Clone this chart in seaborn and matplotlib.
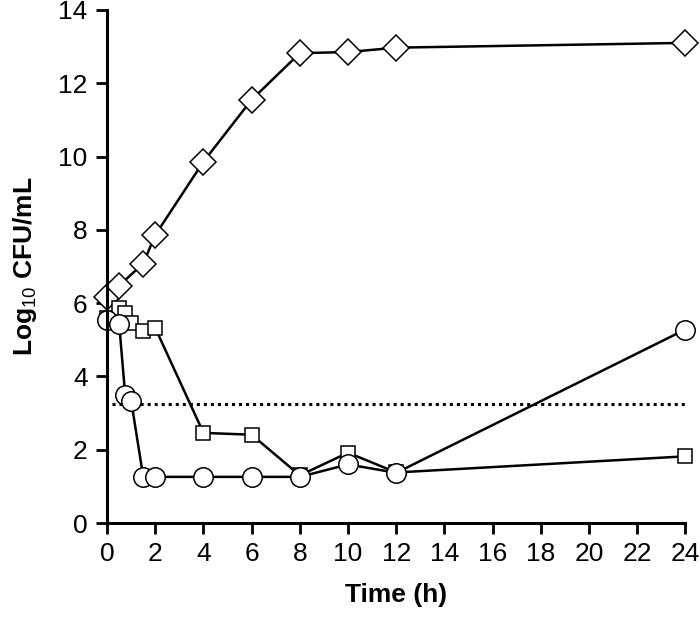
import pandas as pd
import seaborn as sns
import matplotlib
matplotlib.use('Agg')
import matplotlib.pyplot as plt

sns.set_style('ticks')
plt.rcParams['font.family'] = ['Liberation Sans Narrow', 'Liberation Sans', 'DejaVu Sans']
plt.rcParams['mathtext.fontset'] = 'custom'
plt.rcParams['mathtext.rm'] = 'Liberation Sans'
plt.rcParams['mathtext.bf'] = 'Liberation Sans:bold'
plt.rcParams['text.color'] = 'black'
plt.rcParams['axes.labelcolor'] = 'black'
plt.rcParams['xtick.color'] = 'black'
plt.rcParams['ytick.color'] = 'black'
plt.rcParams['axes.edgecolor'] = 'black'

# time points (h) and log10 CFU/mL for each series
diamond_t = [0, 0.5, 1.5, 2, 4, 6, 8, 10, 12, 24]
diamond_y = [6.18, 6.48, 7.08, 7.86, 9.86, 11.55, 12.82, 12.85, 12.97, 13.1]

square_t = [0, 0.5, 0.75, 1, 1.5, 2, 4, 6, 8, 10, 12, 24]
square_y = [5.6, 5.87, 5.73, 5.46, 5.25, 5.32, 2.46, 2.41, 1.3, 1.92, 1.38, 1.82]

circle_t = [0, 0.5, 0.75, 1, 1.5, 2, 4, 6, 8, 10, 12, 24]
circle_y = [5.55, 5.44, 3.5, 3.33, 1.26, 1.26, 1.26, 1.26, 1.26, 1.6, 1.37, 5.28]

limit_t = [0.2, 24]
limit_y = [3.25, 3.25]

x_ticks = list(range(0, 25, 2))
y_ticks = list(range(0, 15, 2))

fig = plt.figure(figsize=(7, 6.19), dpi=100)
ax = fig.add_axes([0.153, 0.155, 0.826, 0.829])

sns.lineplot(x=limit_t, y=limit_y, ax=ax, color='black', lw=2.2,
             linestyle=(0, (1, 1.3)), clip_on=False)
sns.lineplot(x=diamond_t, y=diamond_y, ax=ax, color='black', lw=1.8,
             marker='D', ms=13.5, mfc='white', mec='black', mew=1.1, clip_on=False)
sns.lineplot(x=square_t, y=square_y, ax=ax, color='black', lw=1.8,
             marker='s', ms=10.5, mfc='white', mec='black', mew=1.1, clip_on=False)
sns.lineplot(x=circle_t, y=circle_y, ax=ax, color='black', lw=1.8,
             marker='o', ms=14, mfc='white', mec='black', mew=1.1, clip_on=False)

ax.set_xlim(0, 24)
ax.set_ylim(0, 14)
ax.set_xticks(x_ticks)
ax.set_yticks(y_ticks)
for s in ['left', 'bottom']:
    ax.spines[s].set_linewidth(2.2)
sns.despine(ax=ax)
ax.tick_params(axis='both', direction='out', length=8, width=2,
               labelsize=19, pad=6)

ax.set_xlabel('Time (h)', fontsize=19, fontweight='bold', labelpad=12)
ax.set_ylabel(r'Log$_{10}$ CFU/mL', fontsize=19, fontweight='bold', labelpad=14)

fig.savefig('out.png', dpi=100)
